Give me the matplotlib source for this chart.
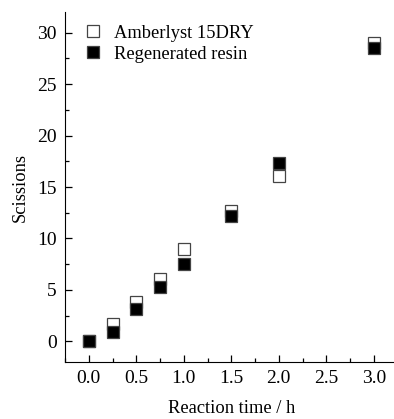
import numpy as np
import matplotlib
matplotlib.use('Agg')
import matplotlib.pyplot as plt
from matplotlib.ticker import MultipleLocator

time_h = [0.0, 0.25, 0.5, 0.75, 1.0, 1.5, 2.0, 3.0]
amberlyst = [0.0, 1.7, 3.85, 6.1, 9.0, 12.7, 16.05, 29.0]
regenerated = [0.0, 0.95, 3.15, 5.25, 7.55, 12.2, 17.35, 28.5]

plt.rcParams['font.family'] = ['Liberation Serif', 'DejaVu Serif']
plt.rcParams['font.size'] = 13.3

fig = plt.figure(figsize=(3.94, 4.19), dpi=100)
# axes box: left spine at ~65px, bottom at ~362px
ax = fig.add_axes([65 / 394, (419 - 362) / 419, 332.5 / 394, 350 / 419])

ax.plot(time_h, amberlyst, linestyle='none', marker='s', markersize=8.5,
        markerfacecolor='white', markeredgecolor='#444444', markeredgewidth=0.9,
        label='Amberlyst 15DRY')
ax.plot(time_h, regenerated, linestyle='none', marker='s', markersize=8.5,
        markerfacecolor='black', markeredgecolor='#444444', markeredgewidth=0.9,
        label='Regenerated resin')

ax.set_xlim(-0.25, 3.25)
ax.set_ylim(-2, 32)
ax.xaxis.set_major_locator(MultipleLocator(0.5))
ax.xaxis.set_minor_locator(MultipleLocator(0.25))
ax.yaxis.set_major_locator(MultipleLocator(5))
ax.yaxis.set_minor_locator(MultipleLocator(2.5))
ax.xaxis.set_major_formatter(plt.FuncFormatter(lambda v, p: f'{v:.1f}'))

ax.spines['top'].set_visible(False)
ax.spines['right'].set_visible(False)
ax.tick_params(which='both', direction='in', width=0.9)
ax.tick_params(which='major', length=5, pad=6, labelsize=14)
ax.tick_params(which='minor', length=3)

ax.set_xlabel('Reaction time / h', labelpad=9)
ax.set_ylabel('Scissions', labelpad=6)

ax.legend(loc='upper left', bbox_to_anchor=(0.035, 0.985), frameon=False,
          handlelength=1.0, handletextpad=0.6, labelspacing=0.22, borderaxespad=0)

fig.savefig('out.png', dpi=100)
